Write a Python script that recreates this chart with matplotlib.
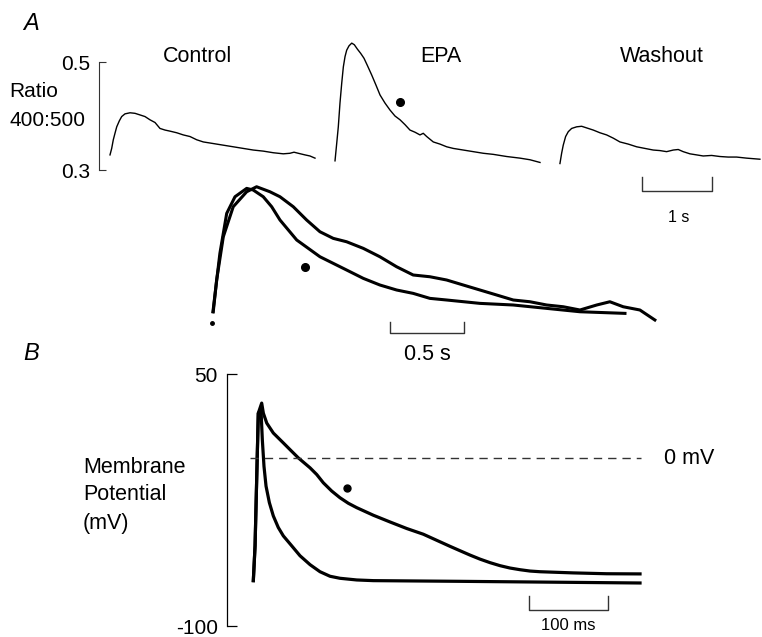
import matplotlib
matplotlib.use('Agg')
import matplotlib.pyplot as plt

plt.rcParams['font.family'] = ['Liberation Sans', 'DejaVu Sans']

W, H = 762, 637  # figure size in pixels (dpi 100)

# ---- A (top): ratio 400:500 sweeps, time from sweep start (s)
ctrl_t = [0, 0.024, 0.047, 0.071, 0.096, 0.133, 0.167, 0.214, 0.286, 0.357, 0.429, 0.5,
          0.571, 0.643, 0.714, 0.786, 0.857, 0.953, 1.047, 1.143, 1.239, 1.333, 1.429,
          1.524, 1.619, 1.762, 1.904, 2.047, 2.190, 2.333, 2.476, 2.571, 2.629, 2.690,
          2.786, 2.857, 2.929]
ctrl_r = [0.328, 0.340, 0.356, 0.368, 0.380, 0.391, 0.399, 0.404, 0.406, 0.405, 0.402,
          0.399, 0.393, 0.388, 0.377, 0.374, 0.372, 0.369, 0.365, 0.362, 0.356, 0.352,
          0.350, 0.348, 0.346, 0.343, 0.340, 0.337, 0.335, 0.332, 0.330, 0.331, 0.333,
          0.331, 0.328, 0.326, 0.322]
epa_t = [0, 0.024, 0.047, 0.071, 0.096, 0.119, 0.143, 0.167, 0.2, 0.239, 0.276, 0.319,
         0.367, 0.414, 0.461, 0.524, 0.586, 0.643, 0.714, 0.786, 0.857, 0.929, 1.0, 1.071,
         1.143, 1.214, 1.261, 1.310, 1.404, 1.5, 1.596, 1.690, 1.833, 1.976, 2.119, 2.261,
         2.453, 2.643, 2.786, 2.929]
epa_r = [0.317, 0.349, 0.380, 0.424, 0.461, 0.491, 0.510, 0.522, 0.530, 0.535, 0.532,
         0.524, 0.516, 0.507, 0.494, 0.476, 0.457, 0.439, 0.424, 0.411, 0.400, 0.393,
         0.384, 0.374, 0.370, 0.365, 0.368, 0.362, 0.352, 0.348, 0.343, 0.340, 0.337,
         0.334, 0.331, 0.329, 0.325, 0.322, 0.319, 0.314]
wash_t = [0, 0.024, 0.047, 0.081, 0.119, 0.167, 0.239, 0.310, 0.381, 0.476, 0.571, 0.667,
          0.762, 0.857, 0.976, 1.096, 1.214, 1.333, 1.429, 1.524, 1.619, 1.690, 1.761,
          1.857, 1.953, 2.047, 2.167, 2.286, 2.404, 2.524, 2.667, 2.857]
wash_r = [0.312, 0.331, 0.346, 0.362, 0.371, 0.377, 0.380, 0.381, 0.378, 0.374, 0.369,
          0.365, 0.359, 0.352, 0.348, 0.343, 0.340, 0.337, 0.336, 0.334, 0.337, 0.338,
          0.334, 0.330, 0.328, 0.326, 0.327, 0.325, 0.324, 0.324, 0.322, 0.320]
sweep_start = [0.014, 3.229, 6.443]
sweep_names = ['Control', 'EPA', 'Washout']
epa_dot = (0.929, 0.426)

# ---- A (overlay): normalised transients
ov_ctrl_t = [0.002, 0.025, 0.070, 0.137, 0.228, 0.295, 0.385, 0.453, 0.543, 0.633, 0.723,
             0.813, 0.903, 1.016, 1.128, 1.241, 1.353, 1.466, 1.579, 1.691, 1.804, 1.917,
             2.029, 2.142, 2.255, 2.367, 2.480, 2.593, 2.682, 2.772, 2.885, 2.986]
ov_ctrl_n = [0, 0.254, 0.600, 0.840, 0.960, 1.000, 0.960, 0.920, 0.840, 0.734, 0.640,
             0.587, 0.560, 0.507, 0.440, 0.360, 0.294, 0.280, 0.254, 0.214, 0.174, 0.134,
             0.094, 0.080, 0.054, 0.040, 0.014, 0.054, 0.080, 0.040, 0.014, -0.066]
ov_epa_t = [0.0, 0.047, 0.093, 0.149, 0.228, 0.272, 0.340, 0.397, 0.453, 0.566, 0.723,
            0.903, 1.016, 1.128, 1.241, 1.353, 1.466, 1.579, 1.804, 2.029, 2.255, 2.480, 2.784]
ov_epa_n = [0.0, 0.467, 0.787, 0.920, 0.987, 0.974, 0.920, 0.840, 0.734, 0.574, 0.440,
            0.334, 0.267, 0.214, 0.174, 0.147, 0.107, 0.094, 0.067, 0.054, 0.027, 0.0, -0.013]
ov_dot = (0.622, 0.36)

# ---- B: action potentials (ms, mV)
ap_ctrl_t = [0, 2.2, 6.3, 9.7, 11.4, 13.5, 16.1, 20.3, 25.3, 31.6, 38, 48.6, 59.1, 71.8,
             84.4, 97.1, 109.7, 130.9, 151.9, 259.5, 489.5]
ap_ctrl_v = [-72.9, -52.2, 26.7, 28.7, 10.9, -4.9, -16.7, -26.5, -34.4, -41.3, -46.3,
             -52.2, -58.1, -63.4, -67.6, -70.3, -71.5, -72.5, -72.9, -73.3, -74.3]
ap_epa_t = [0, 2.2, 6.3, 10.6, 12.7, 17, 25.3, 38, 46.5, 57, 71.8, 80.3, 88.6, 99.2,
            109.7, 120.3, 130.9, 151.9, 173, 194.2, 215.2, 236.3, 249, 261.6, 274.3,
            286.9, 299.6, 312.3, 324.9, 337.6, 350.3, 362.9, 405.1, 447.3, 489.5]
ap_epa_v = [-72.9, -52.2, 26.7, 32.7, 26.7, 20.8, 14.9, 9.0, 5.0, 0.1, -5.8, -9.8, -14.7,
            -19.6, -23.6, -26.9, -29.5, -34.0, -38.0, -41.9, -45.3, -49.8, -52.5, -55.1,
            -57.7, -60.1, -62.2, -64.0, -65.4, -66.4, -67.2, -67.6, -68.3, -68.8, -68.9]
ap_dot = (118.2, -18.0)

fig = plt.figure(figsize=(W / 100, H / 100), dpi=100)


def px_axes(x0, x1, y0, y1):
    ax = fig.add_axes([x0 / W, 1 - y1 / H, (x1 - x0) / W, (y1 - y0) / H])
    for s in ax.spines.values():
        s.set_visible(False)
    ax.set_xticks([])
    ax.set_yticks([])
    ax.patch.set_alpha(0)
    return ax


def ftext(x, y, s, **kw):
    fig.text(x / W, 1 - y / H, s, **kw)


def scale_bar(ax, x0, x1, y, ytop):
    ax.plot([x0, x0, x1, x1], [ytop, y, y, ytop], color='#333333', lw=1.0, clip_on=False)


# top row of sweeps
ax1 = px_axes(99.3, 762, 30, 240)
ax1.set_xlim(-0.139, 9.33)
ax1.set_ylim(0.1704, 0.5593)
for t, r, t0 in zip([ctrl_t, epa_t, wash_t], [ctrl_r, epa_r, wash_r], sweep_start):
    ax1.plot([t0 + v for v in t], r, color='black', lw=1.0)
ax1.plot(sweep_start[1] + epa_dot[0], epa_dot[1], 'o', color='black', ms=5.5)
ax1.spines['left'].set_visible(True)
ax1.spines['left'].set_bounds(0.3, 0.5)
ax1.spines['left'].set_linewidth(0.8)
ax1.spines['left'].set_color('#333333')
ax1.set_yticks([0.3, 0.5], ['0.3', '0.5'])
ax1.tick_params(axis='y', direction='in', length=5, width=0.8, pad=6.5,
                labelsize=15, color='#333333')
scale_bar(ax1, 7.61, 8.61, 0.2611, 0.287)
for name, x in zip(sweep_names, [197, 441, 662]):
    ftext(x, 57, name, fontsize=15.5, ha='center', va='center')
ftext(679, 217, '1 s', fontsize=11.5, ha='center', va='center')

# overlay of normalised transients
ax2 = px_axes(190, 700, 175, 345)
ax2.set_xlim(-0.155, 3.291)
ax2.set_ylim(-0.266, 1.094)
ax2.plot(ov_ctrl_t, ov_ctrl_n, color='black', lw=2.2)
ax2.plot(ov_epa_t, ov_epa_n, color='black', lw=2.2)
ax2.plot(ov_dot[0], ov_dot[1], 'o', color='black', ms=5.5)
ax2.plot(-0.005, -0.093, 'o', color='black', ms=2.5)
scale_bar(ax2, 1.196, 1.696, -0.173, -0.08)
ftext(427, 354, '0.5 s', fontsize=15.5, ha='center', va='center')

# B: membrane potential
ax3 = px_axes(226.7, 762, 374, 626.2)
ax3.set_xlim(-33.7, 643.9)
ax3.set_ylim(-100, 50)
ax3.plot(ap_ctrl_t, ap_ctrl_v, color='black', lw=2.3, solid_joinstyle='round')
ax3.plot(ap_epa_t, ap_epa_v, color='black', lw=2.3, solid_joinstyle='round')
ax3.plot(ap_dot[0], ap_dot[1], 'o', color='black', ms=5)
ax3.plot([-4, 490.5], [0, 0], color='#333333', lw=1.0, dashes=(6, 4.3), clip_on=False)
ax3.spines['left'].set_visible(True)
ax3.spines['left'].set_linewidth(0.9)
ax3.set_yticks([-100, 50], ['-100', '50'])
ax3.tick_params(axis='y', direction='in', length=7.5, width=0.9, pad=6.5, labelsize=15)
scale_bar(ax3, 349, 449, -90.1, -82.1)
ftext(664, 458.5, '0 mV', fontsize=15.5, ha='left', va='center')
ftext(568, 626, '100 ms', fontsize=12, ha='center', va='center')

# panel letters and axis labels
ftext(23, 23, 'A', fontsize=17, style='italic', ha='left', va='center')
ftext(23, 353, 'B', fontsize=17, style='italic', ha='left', va='center')
ftext(9, 91.7, 'Ratio', fontsize=15, ha='left', va='center')
ftext(9, 120.7, '400:500', fontsize=15, ha='left', va='center')
for line, y in zip(['Membrane', 'Potential', '(mV)'], [467.3, 495, 523.3]):
    ftext(83, y, line, fontsize=15.5, ha='left', va='center')

fig.savefig('out.png', dpi=100)
